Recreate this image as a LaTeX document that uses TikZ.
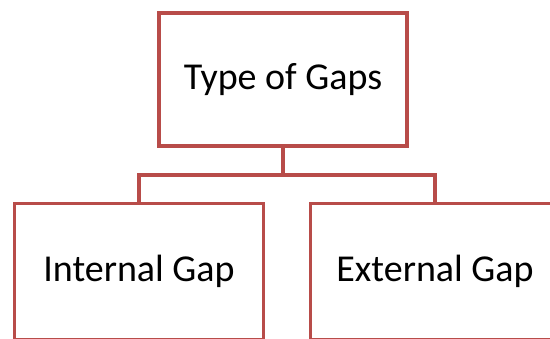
\documentclass[tikz,border=0pt]{standalone}
\usepackage{fontspec}
\setmainfont{Carlito}
\definecolor{boxred}{RGB}{184,76,73}
\begin{document}
\begin{tikzpicture}[x=1pt,y=-1pt,
  gapbox/.style={draw=boxred, line width=3.2pt, fill=white, minimum width=249pt, minimum height=136pt, inner sep=0pt, font=\fontsize{38}{44}\selectfont, text=black},
  link/.style={draw=boxred, line width=3.2pt}]
\useasboundingbox (0,0) rectangle (550,339);
\clip (0,0) rectangle (550,339);
\node[gapbox, minimum width=248pt, minimum height=133pt] (top) at (283,79.5) {Type of Gaps};
\node[gapbox] (left) at (139,271.5) {Internal Gap};
\node[gapbox] (right) at (435,271.5) {External Gap};
\coordinate (mid) at (283,175);
\draw[link] (top.south) -- (mid);
\draw[link] (mid) -| (left.north);
\draw[link] (mid) -| (right.north);
\end{tikzpicture}
\end{document}
